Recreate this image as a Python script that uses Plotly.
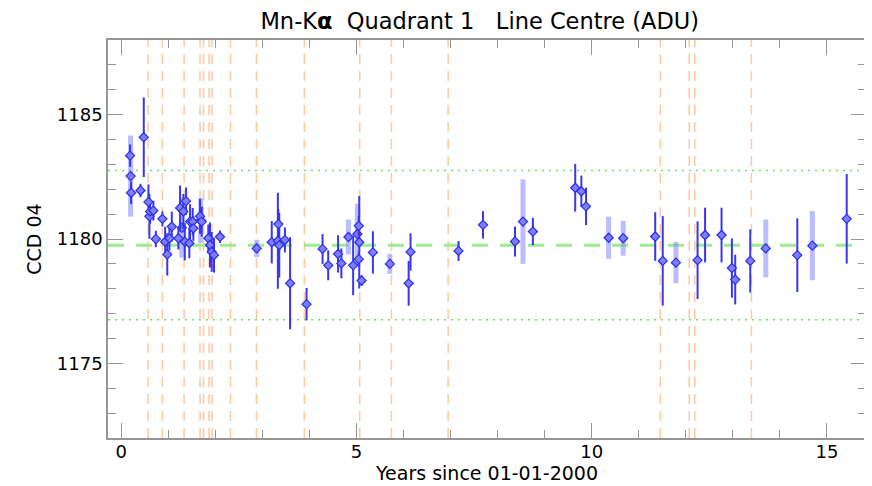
import plotly.graph_objects as go

# ---- data (years since 2000-01-01, line centre ADU, 1-sigma error) ----
t_dark = [0.19, 0.21, 0.41, 0.48, 0.58, 0.60, 0.615, 0.685, 0.736, 0.876, 0.934, 0.98,
          1.025, 1.076, 1.216, 1.252, 1.322, 1.379, 1.352, 1.449, 1.464, 1.521, 1.534,
          1.676, 1.712, 1.852, 1.888, 1.924, 1.973, 2.10,
          3.20, 3.34, 3.33, 3.36, 3.48, 3.59, 3.94, 4.28, 4.40, 4.61, 4.68, 4.93,
          5.06, 5.05, 5.05, 5.11, 5.35, 6.15, 6.11, 7.17, 7.69, 8.37, 8.75,
          9.65, 9.78, 9.88, 11.35, 11.51, 12.25, 12.41, 12.76, 12.98, 13.05, 13.37,
          14.37, 15.42]
v_dark = [1183.35, 1181.86, 1181.95, 1184.09, 1181.49, 1180.91, 1181.11, 1181.14, 1180.00,
          1180.81, 1179.89, 1179.38, 1180.03, 1180.50, 1180.03, 1181.25, 1181.11, 1181.52,
          1179.89, 1179.83, 1180.70, 1180.70, 1180.43, 1180.91, 1180.70, 1180.03, 1179.76,
          1179.48, 1179.35, 1180.09,
          1179.87, 1180.60, 1179.93, 1179.75, 1179.96, 1178.22, 1177.38, 1179.60, 1178.94,
          1179.40, 1179.02, 1178.94, 1179.87, 1180.53, 1179.19, 1178.33, 1179.46, 1179.48,
          1178.22, 1179.52, 1180.57, 1179.90, 1180.30,
          1182.06, 1181.92, 1181.31, 1180.10, 1179.12, 1179.15, 1180.16, 1180.16, 1178.83,
          1178.37, 1179.12, 1179.35, 1180.81]
e_dark = [0.45, 0.45, 0.27, 1.60, 0.70, 0.90, 0.50, 0.40, 0.33, 0.30, 0.60, 0.85,
          0.50, 0.60, 0.45, 0.90, 0.70, 0.55, 0.75, 0.60, 0.70, 0.55, 0.50,
          0.70, 0.60, 0.55, 0.90, 0.80, 0.70, 0.25,
          0.85, 0.60, 1.93, 1.30, 0.50, 1.85, 0.65, 0.60, 0.60, 0.75, 0.60, 1.20,
          1.86, 0.40, 0.30, 0.22, 0.85, 0.75, 0.90, 0.40, 0.55, 0.60, 0.55,
          0.96, 0.63, 0.75, 0.98, 1.80, 1.56, 1.10, 1.10, 1.19, 1.00, 1.27,
          1.48, 1.80]

t_light = [0.20, 1.288, 1.69, 2.88, 4.83, 5.02, 5.71, 8.54, 10.36, 10.67, 11.79, 13.70, 14.69]
v_light = [1182.53, 1180.45, 1180.75, 1179.62, 1180.08, 1180.20, 1179.00, 1180.70,
           1180.05, 1180.03, 1179.05, 1179.62, 1179.73]
e_light = [1.63, 1.20, 0.90, 0.35, 0.70, 1.22, 0.40, 1.70, 0.85, 0.70, 0.83, 1.16, 1.39]

mean_level = 1179.75
band_half = 3.0
event_years = [0.573, 0.876, 1.337, 1.676, 1.750, 1.867, 1.931, 2.323, 2.875, 3.893,
               5.071, 5.744, 6.949, 11.458, 12.073, 12.190, 13.395]

x_ticks = [0, 5, 10, 15]
y_ticks = [1175, 1180, 1185]

FONT = "DejaVu Sans, Verdana, sans-serif"
GRAY = "rgb(150,150,150)"

marker = dict(symbol="diamond", size=7, color="rgb(125,125,255)",
              line=dict(color="rgb(45,45,235)", width=1.2))

fig = go.Figure()
fig.add_trace(go.Scatter(
    x=t_light, y=v_light, mode="markers", marker=marker,
    error_y=dict(type="data", array=e_light, visible=True, thickness=5, width=0,
                 color="rgba(140,145,255,0.6)"),
    showlegend=False))
fig.add_trace(go.Scatter(
    x=t_dark, y=v_dark, mode="markers", marker=marker,
    error_y=dict(type="data", array=e_dark, visible=True, thickness=2, width=0,
                 color="rgb(55,55,240)"),
    showlegend=False))

shapes = []
for ty in event_years:
    shapes.append(dict(type="line", xref="x", yref="paper", x0=ty, x1=ty, y0=0, y1=1,
                       line=dict(color="rgb(255,200,160)", width=1.5, dash="10px,7px"),
                       layer="below"))
shapes.append(dict(type="line", xref="paper", yref="y", x0=0, x1=1,
                   y0=mean_level, y1=mean_level,
                   line=dict(color="rgb(155,235,145)", width=3, dash="16px,12px"),
                   layer="below"))
for lvl in (mean_level + band_half, mean_level - band_half):
    shapes.append(dict(type="line", xref="paper", yref="y", x0=0, x1=1, y0=lvl, y1=lvl,
                       line=dict(color="rgb(110,225,100)", width=1.5, dash="2px,5px"),
                       layer="below"))

axis_common = dict(showgrid=False, zeroline=False, showline=True, linecolor=GRAY,
                   linewidth=1.5, mirror="ticks", ticks="inside", ticklen=15,
                   tickcolor=GRAY, tickwidth=1.2, automargin=False,
                   tickfont=dict(family=FONT, size=18, color="black"))

# the page body adds an 8px offset, so the figure is 864x478 and margins are reduced
fig.update_layout(
    width=864, height=478,
    margin=dict(l=100, r=6, t=32, b=48),
    paper_bgcolor="white", plot_bgcolor="white",
    shapes=shapes,
    title=dict(text="Mn-K<b>α</b>\u00a0\u00a0Quadrant 1\u00a0\u00a0\u00a0Line Centre (ADU)",
               x=0.546, xanchor="center", y=0.972, yanchor="middle",
               font=dict(family=FONT, size=22.5, color="black")),
    xaxis=dict(range=[-0.28, 15.83], tickvals=x_ticks, ticktext=[str(v) for v in x_ticks],
               minor=dict(ticks="inside", ticklen=8, dtick=1, tick0=0, tickcolor=GRAY),
               ticklabelstandoff=-3,
               title=dict(text="Years since 01-01-2000", standoff=2,
                          font=dict(family=FONT, size=19, color="black")),
               **axis_common),
    yaxis=dict(range=[1172, 1188], tickvals=y_ticks, ticktext=[str(v) for v in y_ticks],
               minor=dict(ticks="inside", ticklen=8, dtick=1, tick0=1172, tickcolor=GRAY),
               title=dict(text="CCD 04", standoff=10,
                          font=dict(family=FONT, size=19, color="black")),
               **axis_common),
)

fig.write_html("out.html")
